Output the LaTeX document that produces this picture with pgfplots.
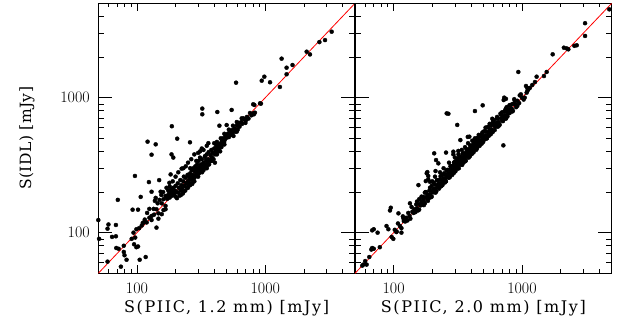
\documentclass[border=0pt]{standalone}
\usepackage{fontspec}
\usepackage{pgfplots}
\pgfplotsset{compat=1.18}
\usepackage{pgfplotstable}
\newfontfamily\labelfamily{DejaVu Serif}[LetterSpace=10]
\newfontfamily\ylabelfamily{DejaVu Serif}[LetterSpace=3]

\pgfplotstableread{
x y
50.7 90
50 124
59 61
60 115
59 107
64 93
68.6 114
68.6 94
71 175
69 77
72 76
79 80
79 72
80 68
83 63
75 56
92.5 148
102 148
96.5 263
94 100
97 92
91 90
95 82
99 78
102 79
105 63
117 66
99 106
104 108
109 113
111 118
113 119
119 119
125 129
130 133
130 124
136 136
142 149
147 139
147 127
156 137
161 147
167 149
167 158
142 109
107 184
124 237
130 201
121 472
140 451
130 378
149 245
138 172
140 181
153 201
161 177
156 165
167 187
175 206
179 234
183 270
186 380
187 614
192 360
206 497
223 298
259 467
323 830
323 753
423 783
439 620
500 627
547 811
592 1291
655 703
708 684
807 766
822 883
910 908
3290 3080
2640 2580
2920 2670
2100 2190
2230 2090
1340 1945
1630 1745
1465 1667
1465 1490
1300 1200
983 1430
938 1336
1089 1300
925 903
805 893
830 774
815 753
716 703
674 700
170 185
172 178
175 190
178 200
180 182
182 195
185 210
188 188
190 200
192 215
195 192
198 205
200 185
200 222
203 200
205 180
208 232
210 198
212 215
215 188
218 245
220 205
222 225
225 212
228 195
230 240
232 260
235 222
238 205
240 255
242 232
245 215
248 268
250 240
252 228
255 262
258 248
260 275
262 232
265 258
268 290
270 245
272 268
275 300
278 262
280 255
282 285
285 310
288 270
290 295
292 262
295 320
298 282
300 300
302 340
305 275
308 305
310 360
312 290
315 320
318 298
320 350
322 280
325 310
330 330
335 300
338 365
340 320
345 345
348 308
350 380
355 330
360 350
362 395
365 320
370 345
375 375
378 340
380 410
385 360
390 390
395 350
400 420
405 380
410 400
415 440
420 395
425 420
430 450
435 410
440 435
445 400
450 460
455 430
460 480
465 450
470 500
478 470
485 490
490 520
500 505
510 540
520 510
530 560
540 530
550 575
560 555
565 520
575 590
585 560
600 620
610 580
620 650
630 610
650 660
660 640
680 700
700 680
720 720
740 700
760 770
780 740
220 190
250 215
270 230
300 260
320 290
350 300
380 340
405 330
200 260
210 280
230 300
250 330
265 350
280 380
290 340
310 400
330 410
350 440
190 240
240 310
260 300
300 390
320 420
340 370
360 460
400 460
420 470
450 500
480 540
520 580
560 620
600 660
180 220
160 200
170 215
150 175
155 190
145 165
135 150
120 140
125 150
115 125
230 200
260 225
280 240
330 290
360 320
420 380
480 450
600 560
700 650
}\leftdata

\pgfplotstableread{
x y
4790 4510
3100 3560
3100 2865
2670 2443
2560 2420
2120 2345
2230 2317
2297 2280
1734 2094
1557 1550
1483 1446
1300 1430
1262 1306
1202 1241
1150 1180
1120 1150
1100 1120
936 1550
1074 1220
1087 1089
727 1000
750 980
720 960
430 796
494 877
259 765
267 760
313 628
587 698
716 443
207 387
256 392
214 345
223 326
183 281
156 225
186 248
212 286
95 153
93.6 146
88 112
91 106
96.5 93
99.4 90
109 139
105.5 102
115 100
119 128
68 104
70 106
68 77
70 76
67 75
75 100
78 78
60 61.6
61.6 58
64.6 66
58 58
57 57
134 165
178 241
186 263
170 178
292 380
319 403
378 512
389 514
331 485
430 485
292 398
181 275
192 238
175 198
102 105
105 101
108 117
112 112
115 108
118 132
120 122
123 121
125 129
128 123
130 140
133 133
135 127
138 155
140 143
143 140
145 149
148 142
150 162
152 152
155 146
158 177
160 163
162 159
165 170
168 161
170 184
172 172
175 165
178 199
180 184
183 179
185 191
188 180
190 205
193 193
195 183
198 222
200 204
203 199
205 211
208 200
210 227
212 212
215 202
218 244
220 224
223 219
225 232
228 219
230 248
233 233
235 221
238 267
240 245
243 238
245 252
248 238
250 270
253 253
255 240
258 289
260 265
263 258
265 273
268 257
270 292
273 273
275 259
278 311
280 286
283 277
285 294
288 276
290 313
293 293
295 277
298 334
300 306
305 299
308 317
310 298
313 338
315 315
318 299
320 358
323 329
325 319
330 340
333 320
335 362
338 338
340 320
345 386
348 355
350 343
353 364
355 341
360 389
363 363
365 343
370 414
373 380
375 368
380 391
383 368
385 416
390 390
393 369
395 442
400 408
403 395
405 417
410 394
413 446
415 415
420 395
423 474
425 434
430 421
433 446
435 418
440 475
443 443
445 418
450 504
455 464
460 451
465 479
470 451
475 513
480 480
485 456
490 549
495 505
500 490
505 520
510 490
520 562
525 525
530 498
540 605
545 556
550 539
560 577
570 547
575 621
580 580
590 555
600 672
610 622
620 608
630 649
640 614
650 702
660 660
670 630
680 762
690 704
700 686
710 731
720 691
730 788
740 740
750 705
760 851
770 785
780 764
790 814
800 768
820 886
830 830
850 799
870 974
880 898
900 882
920 948
950 912
980 1058
1000 1000
1030 968
200 240
210 260
230 280
245 300
270 330
300 360
320 380
340 410
360 430
380 460
410 480
430 500
460 530
500 560
520 600
560 640
600 680
640 720
700 780
750 830
800 880
850 900
250 235
300 285
350 330
400 380
450 430
550 520
650 610
750 700
900 850
152 170
158 148
165 185
172 160
178 200
185 172
192 215
198 185
205 235
212 198
218 245
226 212
232 262
240 225
247 275
255 240
262 292
270 255
278 310
286 268
295 330
303 285
312 345
322 300
332 365
342 318
352 385
362 338
372 410
385 360
398 440
410 385
425 470
438 410
452 500
468 440
482 530
498 470
515 565
532 500
550 610
570 535
590 650
612 575
635 700
660 620
685 750
710 670
740 810
770 725
800 870
840 790
880 950
920 870
960 1040
1050 1000
1100 1180
}\rightdata

\newcommand{\labelfont}{\labelfamily\fontsize{16}{19}\selectfont}
\newcommand{\ylabelfont}{\ylabelfamily\fontsize{15.5}{19}\selectfont}

\begin{document}
\begin{tikzpicture}
\path[use as bounding box] (-98.3pt,-53.7pt) rectangle (524.7pt,273.3pt);
\begin{axis}[xmode=log, ymode=log,
    scale only axis, width=256.7pt, height=270pt,
    at={(0pt,0pt)}, anchor=south west,
    xmin=50, xmax=5000, ymin=50, ymax=5000,
    xtick={100,1000}, xticklabels={100,1000},
    ytick={100,1000}, yticklabels={100,1000},
    minor xtick={60,70,80,90,200,300,400,500,600,700,800,900,2000,3000,4000},
    minor ytick={60,70,80,90,200,300,400,500,600,700,800,900,2000,3000,4000},
    tick align=inside,
    axis line style={line width=1.5pt},
    every tick/.style={black, line width=0.6pt},
    major tick length=14pt, minor tick length=6pt,
    xtick style={/pgfplots/major tick length=8pt, /pgfplots/minor tick length=4pt},
    ticklabel style={font=\fontsize{16}{19}\selectfont},
    xticklabel style={yshift=-6pt},
    yticklabel style={xshift=-5pt},
    every axis x label/.style={at={(axis description cs:0.5,-0.147)}, anchor=base},
    every axis y label/.style={at={(axis description cs:-0.262,0.5)}, anchor=base, rotate=90},
    xlabel={\labelfont S(PIIC, 1.2 mm) [mJy]}, ylabel={\ylabelfont S(IDL) [mJy]}]
  \addplot[only marks, mark=*, mark size=2pt, black] table[x=x, y=y] {\leftdata};
  \addplot[red, line width=0.8pt] coordinates {(50,50) (5000,5000)};
\end{axis}
\begin{axis}[xmode=log, ymode=log,
    scale only axis, width=256.7pt, height=270pt,
    at={(256.7pt,0pt)}, anchor=south west,
    xmin=50, xmax=5000, ymin=50, ymax=5000,
    xtick={100,1000}, xticklabels={100,1000},
    ytick={100,1000}, yticklabels={},
    minor xtick={60,70,80,90,200,300,400,500,600,700,800,900,2000,3000,4000},
    minor ytick={60,70,80,90,200,300,400,500,600,700,800,900,2000,3000,4000},
    tick align=inside,
    axis line style={line width=1.5pt},
    every tick/.style={black, line width=0.6pt},
    major tick length=14pt, minor tick length=6pt,
    xtick style={/pgfplots/major tick length=8pt, /pgfplots/minor tick length=4pt},
    ticklabel style={font=\fontsize{16}{19}\selectfont},
    xticklabel style={yshift=-6pt},
    every axis x label/.style={at={(axis description cs:0.5,-0.147)}, anchor=base},
    xlabel={\labelfont S(PIIC, 2.0 mm) [mJy]}]
  \addplot[only marks, mark=*, mark size=2pt, black] table[x=x, y=y] {\rightdata};
  \addplot[red, line width=0.8pt] coordinates {(50,50) (5000,5000)};
\end{axis}
\end{tikzpicture}
\end{document}
